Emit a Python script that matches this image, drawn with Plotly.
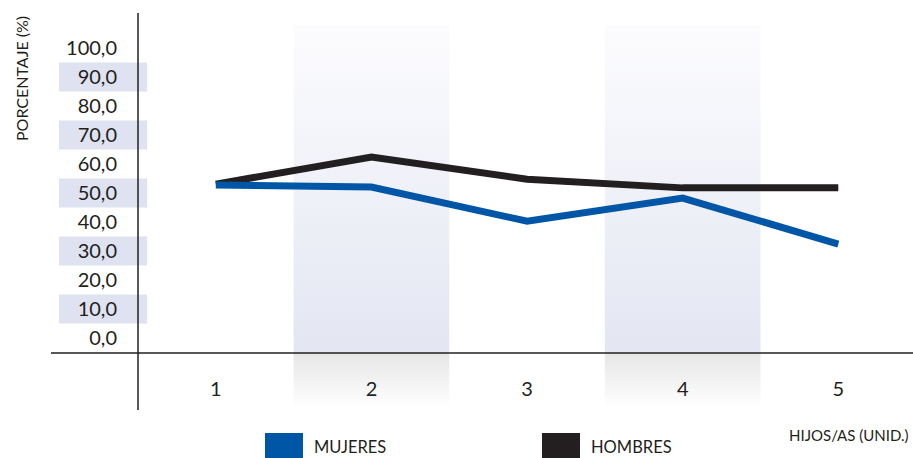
import plotly.graph_objects as go

# ---- data ----
categories = [1, 2, 3, 4, 5]
cat_labels = ["1", "2", "3", "4", "5"]
mujeres = [52.8, 52.1, 40.3, 48.3, 32.4]
hombres = [53.1, 62.4, 54.8, 51.8, 51.8]
y_ticks = [0, 10, 20, 30, 40, 50, 60, 70, 80, 90, 100]
y_labels = ["0,0", "10,0", "20,0", "30,0", "40,0", "50,0", "60,0", "70,0", "80,0", "90,0", "100,0"]
shaded_cats = [2, 4]
shaded_ticks = [10, 30, 50, 70, 90]

BLUE = "#0056a6"
BLACK = "#231f20"
TXT = "#231f20"
FONT = "Lato"

W, H = 913, 458
ML, MR, MT, MB = 138, 0, 13, 48
PW, PH = W - ML - MR, H - MT - MB

Y_MIN, Y_MAX = -24.8, 112.1
X_MIN, X_MAX = 0.5, 5.48
AXIS_V = -5.17
BAND_TOP = 107.9


def px_x(p):
    return (p - ML) / PW


def px_y(p):
    return (H - MB - p) / PH


fig = go.Figure()

# column bands with gradients
for c in shaded_cats:
    fig.add_trace(go.Scatter(
        x=[c - 0.5, c + 0.5, c + 0.5, c - 0.5, c - 0.5],
        y=[BAND_TOP, BAND_TOP, AXIS_V, AXIS_V, BAND_TOP],
        mode="lines", line=dict(width=0), fill="toself",
        fillgradient=dict(type="vertical", start=AXIS_V, stop=BAND_TOP,
                          colorscale=[[0, "#e3e6f2"], [1, "#fcfcfe"]]),
        hoverinfo="skip", showlegend=False))
    fig.add_trace(go.Scatter(
        x=[c - 0.5, c + 0.5, c + 0.5, c - 0.5, c - 0.5],
        y=[AXIS_V, AXIS_V, -24.1, -24.1, AXIS_V],
        mode="lines", line=dict(width=0), fill="toself",
        fillgradient=dict(type="vertical", start=-24.1, stop=AXIS_V,
                          colorscale=[[0, "#ffffff"], [1, "#e6e6e6"]]),
        hoverinfo="skip", showlegend=False))

fig.add_trace(go.Scatter(x=categories, y=hombres, mode="lines",
                         line=dict(color=BLACK, width=7), name="HOMBRES",
                         showlegend=False))
fig.add_trace(go.Scatter(x=categories, y=mujeres, mode="lines",
                         line=dict(color=BLUE, width=7), name="MUJERES",
                         showlegend=False))

shapes = []
# left tick bands
for t in shaded_ticks:
    shapes.append(dict(type="rect", xref="paper", yref="y",
                       x0=px_x(59), x1=px_x(147), y0=t - 5, y1=t + 5,
                       fillcolor="#dfe2f0", line=dict(width=0), layer="below"))
# horizontal axis line
shapes.append(dict(type="line", xref="paper", yref="y",
                   x0=px_x(51), x1=1, y0=AXIS_V, y1=AXIS_V,
                   line=dict(color=BLACK, width=1.5)))
# vertical axis line
shapes.append(dict(type="line", xref="paper", yref="paper",
                   x0=0, x1=0, y0=0, y1=1,
                   line=dict(color=BLACK, width=1.5)))
# legend swatches
shapes.append(dict(type="rect", xref="paper", yref="paper",
                   x0=px_x(265), x1=px_x(303), y0=px_y(458), y1=px_y(433),
                   fillcolor=BLUE, line=dict(width=0)))
shapes.append(dict(type="rect", xref="paper", yref="paper",
                   x0=px_x(542), x1=px_x(580), y0=px_y(458), y1=px_y(433),
                   fillcolor=BLACK, line=dict(width=0)))

annotations = [
    dict(text="MUJERES", xref="paper", yref="paper", x=px_x(312), y=px_y(447),
         xanchor="left", yanchor="middle", showarrow=False,
         font=dict(family=FONT, size=16.5, color=TXT)),
    dict(text="HOMBRES", xref="paper", yref="paper", x=px_x(589), y=px_y(447),
         xanchor="left", yanchor="middle", showarrow=False,
         font=dict(family=FONT, size=16.5, color=TXT)),
    dict(text="HIJOS/AS (UNID.)", xref="paper", yref="paper", x=px_x(911), y=px_y(435),
         xanchor="right", yanchor="middle", showarrow=False,
         font=dict(family=FONT, size=15, color=TXT)),
    dict(text="PORCENTAJE (%)", xref="paper", yref="paper", x=px_x(21), y=px_y(79),
         xanchor="center", yanchor="middle", showarrow=False, textangle=-90,
         font=dict(family=FONT, size=16, color=TXT)),
]

fig.update_layout(
    width=W, height=H,
    margin=dict(l=ML, r=MR, t=MT, b=MB, pad=0),
    paper_bgcolor="white", plot_bgcolor="rgba(0,0,0,0)",
    showlegend=False,
    shapes=shapes, annotations=annotations,
    xaxis=dict(range=[X_MIN, X_MAX], tickvals=categories, ticktext=cat_labels,
               showgrid=False, zeroline=False, showline=False,
               anchor="free", position=(AXIS_V - Y_MIN) / (Y_MAX - Y_MIN),
               ticks="outside", ticklen=0, ticklabelstandoff=18,
               tickfont=dict(family=FONT, size=20, color=TXT), fixedrange=True),
    yaxis=dict(range=[Y_MIN, Y_MAX], tickvals=y_ticks, ticktext=y_labels,
               showgrid=False, zeroline=False, showline=False,
               ticks="outside", ticklen=0, ticklabelstandoff=16,
               tickfont=dict(family=FONT, size=20, color=TXT), fixedrange=True),
)

fig.write_html("out.html", config={"displayModeBar": False},
               post_script="document.body.style.margin='0';document.body.style.overflow='hidden';")
